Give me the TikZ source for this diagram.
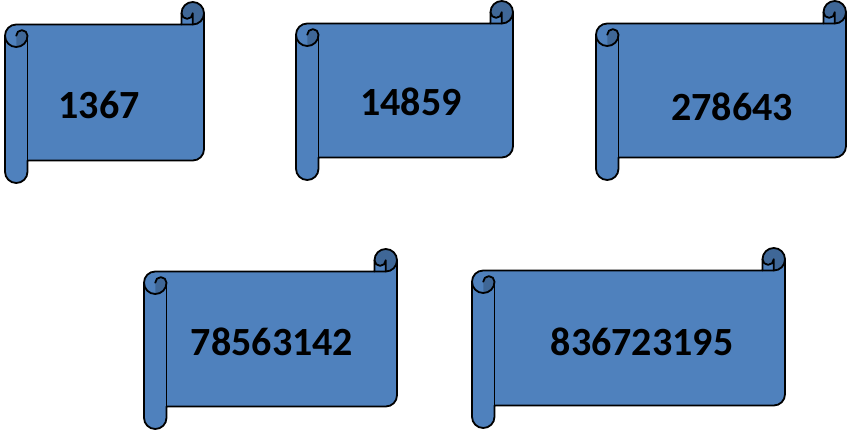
\documentclass[tikz,border=0pt]{standalone}
\usepackage{fontspec}
\setmainfont{Carlito}
\definecolor{paper}{HTML}{4F81BD}
\definecolor{rolldark}{HTML}{3F6797}
\tikzset{
  outline/.style={draw=black,line width=1.8pt,line join=round,line cap=round},
  numtext/.style={font=\bfseries\fontsize{40}{42}\selectfont,text=black,inner sep=0pt}
}
\newcommand\myscroll[4]{%
 \pgfmathsetmacro\sL{#1}\pgfmathsetmacro\sT{#2}\pgfmathsetmacro\sR{#3}\pgfmathsetmacro\sB{#4}%
 \pgfmathsetmacro\sch{22.5}\pgfmathsetmacro\schh{11.25}\pgfmathsetmacro\schq{5.625}%
 \pgfmathsetmacro\sxc{\sR-\sch}\pgfmathsetmacro\sxd{\sR-\schh}%
 \pgfmathsetmacro\syc{\sT+1.5*\sch}\pgfmathsetmacro\syd{\sT+2*\sch}%
 \pgfmathsetmacro\syf{\sB-\sch}\pgfmathsetmacro\syg{\sB-\schh}\pgfmathsetmacro\sye{\syf-\schh}%
 \pgfmathsetmacro\slb{\sL+\schh}\pgfmathsetmacro\slc{\sL+\sch}%
 \pgfmathsetmacro\sta{\sT+\schh}\pgfmathsetmacro\stb{\sT+\sch}%
 \fill[paper] (\sL,\syc) arc[start angle=180,delta angle=90,radius=\schh] -- (\sxc,\stb) -- (\sxc,\sta) arc[start angle=180,delta angle=180,radius=\schh] -- (\sR,\sye) arc[start angle=0,delta angle=90,radius=\schh] -- (\slc,\syf) -- (\slc,\syg) arc[start angle=0,delta angle=180,radius=\schh] -- cycle;
 \fill[rolldark] (\slb,\syd) arc[start angle=90,delta angle=-90,radius=\schh] arc[start angle=0,delta angle=-180,radius=\schq] -- cycle;
 \fill[rolldark] (\sxd,\stb) arc[start angle=90,delta angle=-270,radius=\schh] arc[start angle=180,delta angle=-180,radius=\schq] -- cycle;
 \draw[outline] (\sL,\syc) arc[start angle=180,delta angle=90,radius=\schh] -- (\sxc,\stb) -- (\sxc,\sta) arc[start angle=180,delta angle=180,radius=\schh] -- (\sR,\sye) arc[start angle=0,delta angle=90,radius=\schh] -- (\slc,\syf) -- (\slc,\syg) arc[start angle=0,delta angle=180,radius=\schh] -- cycle;
 \draw[outline] (\sxc,\stb) -- (\sxd,\stb) arc[start angle=90,delta angle=-90,radius=\schh];
 \draw[outline] (\sxd,\stb) -- (\sxd,\sta) arc[start angle=0,delta angle=180,radius=\schq];
 \draw[outline] (\slb,\syc) arc[start angle=180,delta angle=180,radius=\schq] arc[start angle=0,delta angle=180,radius=\schh];
 \draw[outline] (\slc,\syc) -- (\slc,\syf);
}
\begin{document}
\begin{tikzpicture}[x=1pt,y=-1pt]
\useasboundingbox (0,0) rectangle (848,430);
\myscroll{5}{2}{204}{183}
\myscroll{296}{1}{513}{180}
\myscroll{596}{1}{846}{180}
\myscroll{144}{249}{397}{429}
\myscroll{472}{248}{785}{428}
\node[numtext] (n1) at (99,105) {1367};
\node[numtext] (n2) at (411,102) {14859};
\node[numtext] (n3) at (732,107) {278643};
\node[numtext] (n4) at (272,342) {78563142};
\node[numtext] (n5) at (642,342) {836723195};
\end{tikzpicture}
\end{document}
